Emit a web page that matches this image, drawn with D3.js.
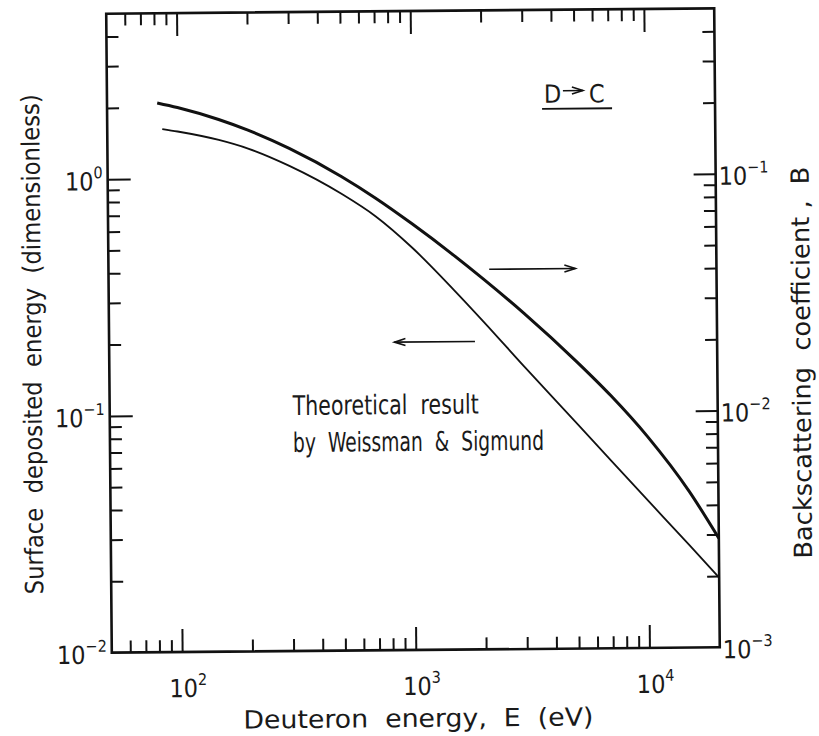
<!DOCTYPE html>
<html>
<head>
<meta charset="utf-8">
<script src="https://cdn.jsdelivr.net/npm/d3@7"></script>
<style>
  body { margin: 0; background: #fff; }
  svg text { font-family: "Liberation Sans Narrow", "DejaVu Sans Condensed", "Roboto", sans-serif; fill: #1a1a1a; white-space: pre; }
</style>
</head>
<body>
<svg id="chart"></svg>
<script>
// surface deposited energy, left axis (thin line)
var energyDep = [86, 100, 150, 200, 300, 500, 700, 1000, 1500, 2000, 3000, 5000, 7000, 10000, 15000, 20000];
var deposited = [1.62, 1.58, 1.45, 1.33, 1.12, 0.85, 0.68, 0.50, 0.331, 0.243, 0.155, 0.0891, 0.0617, 0.0419, 0.0270, 0.0197];
// backscattering coefficient B, right axis (thick line)
var energyBack = [82, 100, 150, 200, 300, 500, 700, 1000, 1500, 2000, 3000, 5000, 7000, 10000, 15000, 20000];
var backscatter = [0.209, 0.1995, 0.1769, 0.1591, 0.1327, 0.1006, 0.0812, 0.0631, 0.0464, 0.0368, 0.0261, 0.0163, 0.01165, 0.00781, 0.00457, 0.00289];

var xMajor = [100, 1000, 10000], xExp = ["2", "3", "4"];
var leftMajor = [1, 0.1, 0.01], leftExp = ["0", "\u22121", "\u22122"];
var rightMajor = [0.1, 0.01, 0.001], rightExp = ["\u22121", "\u22122", "\u22123"];

var W = 819, H = 736;
var svg = d3.select("#chart").attr("width", W).attr("height", H);

var margin = {top: 11, right: 102, bottom: 86, left: 109},
    width = W - margin.left - margin.right,
    height = H - margin.top - margin.bottom;

// the scan is slightly tilted
var root = svg.append("g").attr("transform", "rotate(-0.5,413,331)");
var g = root.append("g").attr("transform", "translate(" + margin.left + "," + margin.top + ")");

var x = d3.scaleLog().domain([50, 20000]).range([0, width]);
var yL = d3.scaleLog().domain([0.01, 5]).range([height, 0]);
var yR = d3.scaleLog().domain([0.001, 0.5]).range([height, 0]);

function isMajor(v) { return Math.abs(Math.log10(v) - Math.round(Math.log10(v))) < 1e-6; }
function inside(s) { var d = s.domain(); return function (v) { return v > Math.min(d[0], d[1]) * 1.0001 && v < Math.max(d[0], d[1]) * 0.9999; }; }

var xMinor = x.ticks().filter(inside(x)).filter(function (v) { return !isMajor(v); });
var yLMinor = yL.ticks().filter(inside(yL)).filter(function (v) { return !isMajor(v); });
var yRMinor = yR.ticks().filter(inside(yR)).filter(function (v) { return !isMajor(v); });

function tickAxis(axis, vals, size) {
    return axis.tickValues(vals).tickSize(size).tickSizeOuter(0).tickFormat("");
}
function styleAxis(sel) {
    sel.select(".domain").remove();
    sel.selectAll("line").attr("stroke", "#111").attr("stroke-width", 2);
}

// bottom / top ticks (pointing inward)
g.append("g").attr("transform", "translate(0," + height + ")").call(tickAxis(d3.axisBottom(x), xMinor, -12)).call(styleAxis);
g.append("g").attr("transform", "translate(0," + height + ")").call(tickAxis(d3.axisBottom(x), xMajor, -23)).call(styleAxis);
g.append("g").call(tickAxis(d3.axisTop(x), xMinor, -12)).call(styleAxis);
g.append("g").call(tickAxis(d3.axisTop(x), xMajor, -23)).call(styleAxis);
// left ticks
g.append("g").call(tickAxis(d3.axisLeft(yL), yLMinor, -12)).call(styleAxis);
g.append("g").call(tickAxis(d3.axisLeft(yL), leftMajor.filter(inside(yL)), -23)).call(styleAxis);
// right ticks
g.append("g").attr("transform", "translate(" + width + ",0)").call(tickAxis(d3.axisRight(yR), yRMinor, -12)).call(styleAxis);
g.append("g").attr("transform", "translate(" + width + ",0)").call(tickAxis(d3.axisRight(yR), rightMajor.filter(inside(yR)), -22)).call(styleAxis);

// frame
g.append("rect").attr("width", width).attr("height", height)
    .attr("fill", "none").attr("stroke", "#111").attr("stroke-width", 2.6);

// power-of-ten labels
function powLabel(sel, base, exp) {
    sel.append("tspan").attr("font-size", 25).text(base);
    sel.append("tspan").attr("font-size", 16).attr("dy", -12).text(exp);
}
xMajor.forEach(function (v, i) {
    var t = g.append("text").attr("x", x(v) - 13).attr("y", height + 45);
    powLabel(t, "10", xExp[i]);
});
leftMajor.forEach(function (v, i) {
    var t = g.append("text").attr("x", -5).attr("y", yL(v) + 11).attr("text-anchor", "end");
    powLabel(t, "10", leftExp[i]);
});
rightMajor.forEach(function (v, i) {
    var t = g.append("text").attr("x", width + 3).attr("y", yR(v) + 11);
    powLabel(t, "10", rightExp[i]);
});

// curves
var depPts = energyDep.map(function (e, i) { return [e, deposited[i]]; });
var backPts = energyBack.map(function (e, i) { return [e, backscatter[i]]; });
var lineL = d3.line().x(function (d) { return x(d[0]); }).y(function (d) { return yL(d[1]); }).curve(d3.curveMonotoneX);
var lineR = d3.line().x(function (d) { return x(d[0]); }).y(function (d) { return yR(d[1]); }).curve(d3.curveMonotoneX);

g.append("path").datum(depPts).attr("d", lineL).attr("fill", "none").attr("stroke", "#111").attr("stroke-width", 1.8);
g.append("path").datum(backPts).attr("d", lineR).attr("fill", "none").attr("stroke", "#111").attr("stroke-width", 3);

// arrows telling which axis belongs to which curve
function arrow(x1, x2, yy) {
    var dir = x2 > x1 ? 1 : -1;
    g.append("line").attr("x1", x1).attr("x2", x2).attr("y1", yy).attr("y2", yy)
        .attr("stroke", "#111").attr("stroke-width", 1.6);
    g.append("path")
        .attr("d", "M" + (x2 - dir * 11) + "," + (yy - 3.5) + "L" + x2 + "," + yy + "L" + (x2 - dir * 11) + "," + (yy + 3.5))
        .attr("fill", "none").attr("stroke", "#111").attr("stroke-width", 1.6);
}
arrow(x(2130), x(4980), yL(0.403));
arrow(x(1840), x(832), yL(0.2));

// D -> C label
g.append("text").attr("x", 437).attr("y", 93).attr("font-size", 25).text("D");
arrow(456, 476, 81);
g.append("text").attr("x", 482).attr("y", 93).attr("font-size", 25).text("C");
g.append("line").attr("x1", 435).attr("x2", 505).attr("y1", 99).attr("y2", 99)
    .attr("stroke", "#111").attr("stroke-width", 1.8);

// annotation
g.append("text").attr("x", 183).attr("y", 403).attr("font-size", 27)
    .attr("textLength", 186).attr("lengthAdjust", "spacingAndGlyphs").text("Theoretical  result");
g.append("text").attr("x", 183).attr("y", 440).attr("font-size", 27)
    .attr("textLength", 251).attr("lengthAdjust", "spacingAndGlyphs").text("by  Weissman  &  Sigmund");

// axis titles
root.append("text").attr("x", 415).attr("y", 727).attr("text-anchor", "middle")
    .attr("font-size", 25).attr("textLength", 350).attr("lengthAdjust", "spacingAndGlyphs")
    .text("Deuteron  energy,  E  (eV)");
root.append("text").attr("transform", "translate(41,341) rotate(-90)").attr("text-anchor", "middle")
    .attr("font-size", 25).attr("textLength", 500).attr("lengthAdjust", "spacingAndGlyphs")
    .text("Surface  deposited  energy  (dimensionless)");
root.append("text").attr("transform", "translate(810,366) rotate(-90)").attr("text-anchor", "middle")
    .attr("font-size", 25).attr("textLength", 392).attr("lengthAdjust", "spacingAndGlyphs")
    .text("Backscattering  coefficient ,  B");
</script>
</body>
</html>
